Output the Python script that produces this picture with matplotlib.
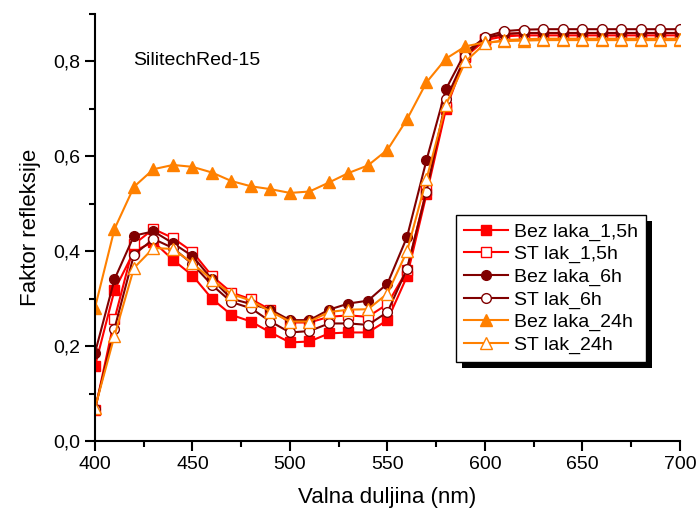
import numpy as np
import matplotlib
matplotlib.use("Agg")
import matplotlib.pyplot as plt
from matplotlib.patches import Rectangle
from matplotlib.ticker import MultipleLocator, FuncFormatter

plt.rcParams['font.family'] = ['Liberation Sans', 'DejaVu Sans']

wl = np.arange(400, 701, 10)

bez_15 = [0.158, 0.318, 0.400, 0.420, 0.382, 0.349, 0.300, 0.266, 0.252, 0.229,
          0.208, 0.210, 0.227, 0.229, 0.229, 0.255, 0.347, 0.520, 0.700, 0.810,
          0.845, 0.853, 0.855, 0.855, 0.855, 0.855, 0.855, 0.855, 0.855, 0.855, 0.855]
st_15 = [0.065, 0.257, 0.415, 0.447, 0.428, 0.399, 0.348, 0.313, 0.299, 0.277,
         0.250, 0.250, 0.262, 0.265, 0.262, 0.289, 0.360, 0.530, 0.705, 0.812,
         0.848, 0.858, 0.860, 0.860, 0.860, 0.860, 0.860, 0.860, 0.860, 0.860, 0.860]
bez_6 = [0.186, 0.341, 0.433, 0.442, 0.417, 0.390, 0.341, 0.300, 0.289, 0.277,
         0.255, 0.255, 0.277, 0.290, 0.296, 0.332, 0.430, 0.592, 0.742, 0.820,
         0.850, 0.858, 0.860, 0.860, 0.860, 0.860, 0.860, 0.860, 0.860, 0.860, 0.860]
st_6 = [0.068, 0.237, 0.393, 0.426, 0.407, 0.373, 0.329, 0.293, 0.280, 0.252,
        0.229, 0.232, 0.248, 0.248, 0.245, 0.272, 0.363, 0.526, 0.720, 0.811,
        0.852, 0.864, 0.867, 0.868, 0.868, 0.868, 0.868, 0.868, 0.868, 0.868, 0.868]
bez_24 = [0.281, 0.447, 0.536, 0.573, 0.582, 0.578, 0.566, 0.548, 0.537, 0.531,
          0.523, 0.526, 0.545, 0.565, 0.581, 0.614, 0.678, 0.756, 0.806, 0.832,
          0.840, 0.843, 0.844, 0.845, 0.845, 0.845, 0.845, 0.845, 0.845, 0.845, 0.845]
st_24 = [0.070, 0.222, 0.365, 0.407, 0.405, 0.375, 0.340, 0.310, 0.296, 0.273,
         0.252, 0.252, 0.272, 0.277, 0.278, 0.311, 0.400, 0.552, 0.709, 0.800,
         0.838, 0.845, 0.847, 0.848, 0.848, 0.848, 0.848, 0.848, 0.848, 0.848, 0.848]

series = [
    (bez_15, "Bez laka_1,5h", "#ff0000", "s", True),
    (st_15, "ST lak_1,5h", "#ff0000", "s", False),
    (bez_6, "Bez laka_6h", "#800000", "o", True),
    (st_6, "ST lak_6h", "#800000", "o", False),
    (bez_24, "Bez laka_24h", "#ff8000", "^", True),
    (st_24, "ST lak_24h", "#ff8000", "^", False),
]

fig = plt.figure(figsize=(7, 5.19), dpi=100)
ax = fig.add_axes([0.1357, 0.150, 0.8357, 0.823])

for vals, name, col, mk, filled in series:
    ax.plot(wl, vals, color=col, lw=1.5, marker=mk, markersize=8 if mk == "^" else 7,
            markerfacecolor=col if filled else "white", markeredgecolor=col,
            markeredgewidth=1.0, label=name)

ax.set_xlim(400, 700)
ax.set_ylim(0, 0.9)
ax.xaxis.set_major_locator(MultipleLocator(50))
ax.xaxis.set_minor_locator(MultipleLocator(25))
ax.yaxis.set_major_locator(MultipleLocator(0.2))
ax.yaxis.set_minor_locator(MultipleLocator(0.1))
ax.yaxis.set_major_formatter(FuncFormatter(lambda v, p: f"{v:.1f}".replace(".", ",")))

for s in ["top", "right"]:
    ax.spines[s].set_visible(False)
for s in ["left", "bottom"]:
    ax.spines[s].set_linewidth(1.5)
ax.tick_params(which="major", direction="out", length=7, width=1.5, labelsize=14)
ax.tick_params(which="minor", direction="out", length=4.5, width=1.5)

ax.set_xlabel("Valna duljina (nm)", fontsize=16, labelpad=10)
ax.set_ylabel("Faktor refleksije", fontsize=16, labelpad=9)

ax.text(0.065, 0.892, "SilitechRed-15", transform=ax.transAxes, fontsize=14, va="center")

leg = ax.legend(loc="upper left", bbox_to_anchor=(0.617, 0.529), borderaxespad=0,
                fontsize=14, frameon=True, fancybox=False, framealpha=1,
                edgecolor="black", handlelength=2.3, labelspacing=0.25,
                handletextpad=0.3, borderpad=0.4)
leg.get_frame().set_linewidth(1.0)

# black drop shadow behind the legend box
fig.canvas.draw()
bb = leg.get_window_extent()
ax.add_patch(Rectangle((bb.x0 + 6, bb.y0 - 6), bb.width, bb.height, transform=None,
                       facecolor="black", edgecolor="none", zorder=leg.get_zorder() - 0.1,
                       clip_on=False))

fig.savefig("out.png", dpi=100)
